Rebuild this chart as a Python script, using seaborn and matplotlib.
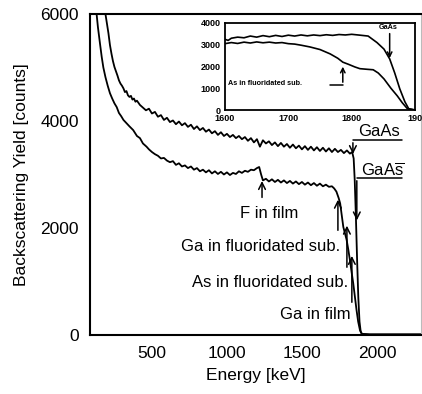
import matplotlib
matplotlib.use("Agg")
import matplotlib.pyplot as plt
import seaborn as sns
import pandas as pd

# ---------------- data ----------------
upper_energy = [190, 200, 210, 220, 230, 240, 250, 260, 270, 280, 290, 300, 310, 320, 330, 340,
                350, 360, 370, 380, 390, 400, 420, 440, 460, 480, 500, 520, 540, 560, 580, 600,
                620, 640, 660, 680, 700, 720, 740, 760, 780, 800, 820, 840, 860, 880, 900, 920,
                940, 960, 980, 1000, 1020, 1040, 1060, 1080, 1100, 1120, 1140, 1160, 1180, 1200,
                1220, 1240, 1260, 1280, 1300, 1320, 1340, 1360, 1380, 1400, 1420, 1440, 1460,
                1480, 1500, 1520, 1540, 1560, 1580, 1600, 1620, 1640, 1660, 1680, 1700, 1720,
                1740, 1760, 1780, 1800, 1820, 1835, 1845, 1852, 1860, 1868, 1876, 1884, 1892,
                1900, 1950, 2000, 2100, 2200, 2300]
upper_counts = [6000, 5820, 5640, 5420, 5260, 5120, 5010, 4930, 4850, 4760, 4700, 4660, 4610, 4540,
                4560, 4480, 4450, 4470, 4400, 4420, 4360, 4380, 4300, 4250, 4200, 4230, 4140, 4170,
                4080, 4110, 4020, 4060, 3980, 4010, 3940, 3990, 3920, 3960, 3890, 3930, 3850, 3900,
                3830, 3870, 3800, 3840, 3770, 3810, 3740, 3790, 3720, 3760, 3700, 3740, 3680, 3720,
                3660, 3700, 3630, 3680, 3600, 3660, 3520, 3640, 3580, 3620, 3550, 3600, 3530, 3590,
                3520, 3570, 3500, 3560, 3490, 3540, 3470, 3530, 3460, 3520, 3450, 3510, 3440, 3500,
                3430, 3490, 3420, 3480, 3420, 3460, 3400, 3450, 3390, 3420, 3300, 2900, 2200, 1400,
                700, 250, 60, 20, 10, 10, 10, 10, 10]

lower_energy = [131, 140, 153, 165, 176, 190, 205, 220, 235, 250, 265, 280, 295, 310, 330, 350,
                375, 400, 420, 440, 464, 480, 500, 520, 540, 560, 580, 600, 620, 640, 660, 680,
                700, 720, 740, 760, 780, 800, 820, 840, 860, 880, 900, 920, 940, 960, 980, 1000,
                1020, 1040, 1060, 1080, 1100, 1120, 1140, 1160, 1180, 1200, 1215, 1228, 1240, 1260,
                1280, 1300, 1320, 1340, 1360, 1380, 1400, 1420, 1440, 1460, 1480, 1500, 1520, 1540,
                1560, 1580, 1600, 1620, 1640, 1660, 1680, 1700, 1715, 1730, 1745, 1755, 1765, 1776,
                1787, 1798, 1809, 1820, 1831, 1842, 1853, 1864, 1875, 1887, 1900, 1950, 2300]
lower_counts = [6000, 5750, 5460, 5200, 5000, 4820, 4660, 4520, 4420, 4330, 4260, 4150, 4090, 4020,
                3960, 3900, 3830, 3720, 3680, 3580, 3520, 3470, 3420, 3380, 3350, 3300, 3310, 3260,
                3230, 3250, 3180, 3210, 3150, 3170, 3120, 3150, 3090, 3120, 3060, 3090, 3040, 3080,
                3020, 3060, 3010, 3050, 3000, 3040, 2990, 3030, 3010, 3060, 3030, 3070, 3050, 3090,
                3080, 3120, 3140, 3000, 2890, 2920, 2870, 2910, 2860, 2900, 2850, 2890, 2840, 2880,
                2830, 2870, 2820, 2860, 2810, 2850, 2800, 2840, 2790, 2830, 2780, 2810, 2770, 2780,
                2740, 2680, 2560, 2460, 2250, 2020, 1900, 1780, 1600, 1400, 1180, 970, 720, 470,
                250, 90, 20, 10, 10]

inset_upper_energy = [1600, 1605, 1610, 1620, 1630, 1640, 1650, 1660, 1670, 1680, 1690, 1700, 1710,
                      1720, 1730, 1740, 1750, 1760, 1770, 1780, 1790, 1800, 1810, 1826, 1840, 1851,
                      1860, 1868, 1876, 1884, 1890, 1900]
inset_upper_counts = [3250, 3200, 3300, 3350, 3320, 3400, 3350, 3420, 3370, 3430, 3380, 3440, 3400,
                      3450, 3410, 3450, 3420, 3460, 3430, 3470, 3450, 3480, 3450, 3400, 3100, 2800,
                      2350, 1700, 970, 380, 60, 0]

inset_lower_energy = [1600, 1610, 1620, 1630, 1640, 1650, 1660, 1670, 1680, 1690, 1700, 1710, 1720,
                      1734, 1750, 1766, 1778, 1786, 1795, 1805, 1813, 1825, 1834, 1842, 1851, 1862,
                      1872, 1880, 1888, 1900]
inset_lower_counts = [3050, 3100, 3060, 3120, 3080, 3130, 3090, 3120, 3080, 3100, 3050, 3030, 2980,
                      2900, 2780, 2580, 2380, 2200, 2100, 1980, 1900, 1870, 1850, 1700, 1430, 1000,
                      650, 330, 60, 0]

main_xticks = [500, 1000, 1500, 2000]
main_yticks = [0, 2000, 4000, 6000]
inset_xticks = [1600, 1700, 1800, 1900]
inset_yticks = [0, 1000, 2000, 3000, 4000]

# ---------------- style ----------------
sns.set_theme(style="white")
plt.rcParams['font.family'] = ['Liberation Sans', 'DejaVu Sans']
plt.rcParams['mathtext.fontset'] = 'custom'
plt.rcParams['mathtext.rm'] = 'Liberation Sans'
plt.rcParams['text.color'] = 'black'
plt.rcParams['axes.labelcolor'] = 'black'
plt.rcParams['xtick.color'] = 'black'
plt.rcParams['ytick.color'] = 'black'

fig = plt.figure(figsize=(4.22, 3.94), dpi=100)
ax = fig.add_axes([90 / 422, 59 / 394, 331 / 422, 321 / 394])

df_up = pd.DataFrame({"energy": upper_energy, "counts": upper_counts})
df_lo = pd.DataFrame({"energy": lower_energy, "counts": lower_counts})
sns.lineplot(data=df_up, x="energy", y="counts", ax=ax, color="black", lw=1.3, estimator=None)
sns.lineplot(data=df_lo, x="energy", y="counts", ax=ax, color="black", lw=1.3, estimator=None)

ax.set_xlim(87, 2294)
ax.set_ylim(0, 6000)
ax.set_xticks(main_xticks)
ax.set_yticks(main_yticks)
ax.tick_params(direction="in", length=5, width=1.2, colors="black", labelsize=12.5, pad=8)
ax.set_xlabel("Energy [keV]", fontsize=12.5, labelpad=5)
ax.set_ylabel("Backscattering Yield [counts]", fontsize=12.5, labelpad=8)
for s in ["left", "bottom", "top"]:
    ax.spines[s].set_color("black")
    ax.spines[s].set_linewidth(1.5)
ax.spines["right"].set_color("#bbbbbb")
ax.spines["right"].set_linewidth(0.8)

arrow = dict(arrowstyle="->", color="black", lw=1.1, mutation_scale=12)
fs = 12
# F in film
ax.annotate("", xy=(1234, 2930), xytext=(1234, 2520), arrowprops=arrow)
ax.text(1280, 2280, "F in film", fontsize=fs, ha="center", va="center")
# Ga in fluoridated sub.
ax.annotate("", xy=(1740, 2580), xytext=(1740, 1905), arrowprops=arrow)
ax.text(1756, 1645, "Ga in fluoridated sub.", fontsize=fs, ha="right", va="center")
# As in fluoridated sub.
ax.annotate("", xy=(1800, 2095), xytext=(1800, 1215), arrowprops=arrow)
ax.text(1808, 990, "As in fluoridated sub.", fontsize=fs, ha="right", va="center")
# Ga in film
ax.annotate("", xy=(1833, 1530), xytext=(1833, 560), arrowprops=arrow)
ax.text(1822, 375, "Ga in film", fontsize=fs, ha="right", va="center")
# GaAs (upper)
ax.plot([1840, 2170], [3645, 3645], color="black", lw=1.1)
ax.annotate("", xy=(1840, 3330), xytext=(1840, 3645), arrowprops=arrow)
ax.text(1872, 3810, "GaAs", fontsize=fs, ha="left", va="center")
# GaAs (lower, with overline)
ax.plot([1866, 2170], [2935, 2935], color="black", lw=1.1)
ax.annotate("", xy=(1866, 2090), xytext=(1866, 2935), arrowprops=arrow)
ax.text(1893, 3080, r"GaA$\overline{\mathrm{s}}$", fontsize=fs, ha="left", va="center")

# ---------------- inset ----------------
ax_in = fig.add_axes([225 / 422, 284 / 394, 190 / 422, 87 / 394])
df_iu = pd.DataFrame({"energy": inset_upper_energy, "counts": inset_upper_counts})
df_il = pd.DataFrame({"energy": inset_lower_energy, "counts": inset_lower_counts})
sns.lineplot(data=df_iu, x="energy", y="counts", ax=ax_in, color="black", lw=1.2, estimator=None)
sns.lineplot(data=df_il, x="energy", y="counts", ax=ax_in, color="black", lw=1.2, estimator=None)
ax_in.set_xlim(1600, 1900)
ax_in.set_ylim(0, 4000)
ax_in.set_xticks(inset_xticks)
ax_in.set_yticks(inset_yticks)
ax_in.set_xticklabels(["1600", "1700", "1800", "190"])
ax_in.set_xlabel("")
ax_in.set_ylabel("")
ax_in.tick_params(direction="in", length=3, width=1, colors="black", labelsize=6.5, pad=3)
for lab in ax_in.get_xticklabels() + ax_in.get_yticklabels():
    lab.set_fontweight("bold")
for s in ax_in.spines.values():
    s.set_color("black")
    s.set_linewidth(1.3)
small_arrow = dict(arrowstyle="->", color="black", lw=1.1, mutation_scale=8)
ax_in.plot([1766, 1786], [1150, 1150], color="black", lw=1.1)
ax_in.annotate("", xy=(1786, 2120), xytext=(1786, 1150), arrowprops=small_arrow)
ax_in.text(1604, 1200, "As in fluoridated sub.", fontsize=5.2, fontweight="bold",
           ha="left", va="center")
ax_in.annotate("", xy=(1860, 2260), xytext=(1860, 3640), arrowprops=small_arrow)
ax_in.text(1858, 3800, "GaAs", fontsize=5.2, fontweight="bold", ha="center", va="center")

fig.savefig("out.png", dpi=100)
